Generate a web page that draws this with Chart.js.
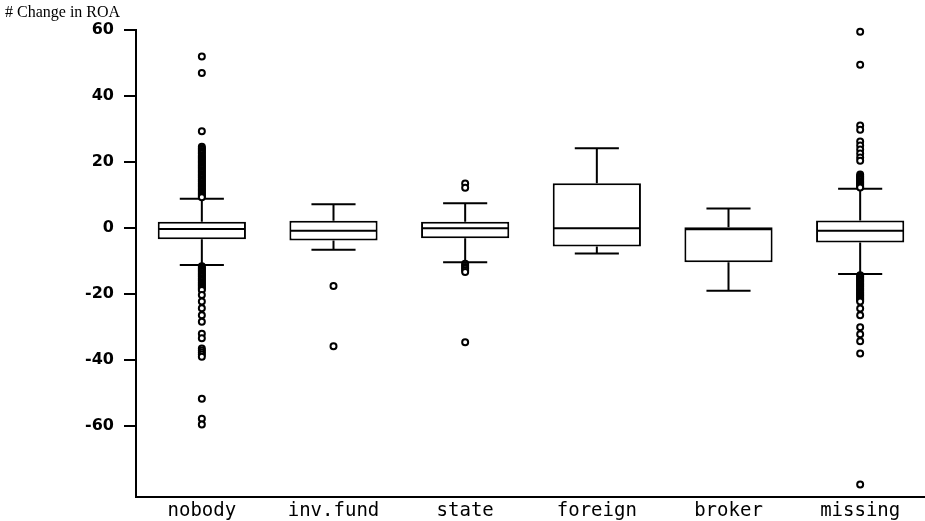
<!DOCTYPE html>
<html>
<head>
<meta charset="utf-8">
<script src="https://cdn.jsdelivr.net/npm/chart.js@4.4.1/dist/chart.umd.min.js"></script>
<style>
  html, body { margin: 0; padding: 0; background: #fff; overflow: hidden; }
  #wrap { position: relative; width: 925px; height: 521px; overflow: hidden; }
  #roa-box { position: absolute; left: 0; top: 0; }
  #roa-title {
    position: absolute; left: 5px; top: 3px;
    font-family: "Liberation Serif", serif; font-size: 16px; color: #000;
  }
</style>
</head>
<body>
<div id="wrap">
  <canvas id="roa-box" width="932" height="521"></canvas>
  <div id="roa-title"># Change in ROA</div>
</div>
<script>
const categories = ['nobody', 'inv.fund', 'state', 'foreign', 'broker', 'missing'];
const q1 = [-3.4, -3.8, -3.1, -5.6, -10.4, -4.4];
const q3 = [1.9, 2.2, 1.9, 13.6, 0.2, 2.3];
const medians = [-0.3, -0.8, -0.1, -0.1, -0.4, -0.8];
const whiskerLow = [-11.2, -6.6, -10.4, -7.7, -19.0, -13.9];
const whiskerHigh = [8.9, 7.2, 7.5, 24.2, 5.9, 11.9];
const yTicks = [-60, -40, -20, 0, 20, 40, 60];

// outliers per group (dense runs listed point by point)
const outNobody = [52, 47, 29.3, 24.6, 24.2, 23.8, 23.3, 22.9, 22.5, 22, 21.6, 21.2, 20.8, 20.4, 20, 19.6,
  19.2, 18.8, 18.4, 18, 17.6, 17.2, 16.8, 16.4, 16, 15.6, 15.2, 14.8, 14.4, 14, 13.6, 13.2,
  12.8, 12.4, 12, 11.6, 11.2, 10.8, 10.4, 10, 9.6, 9.3,
  -11.6, -12, -12.4, -12.8, -13.2, -13.6, -14, -14.4, -14.8, -15.2, -15.6, -16, -16.4, -16.8,
  -17.2, -17.6, -18, -18.4, -18.8,
  -20.3, -22.3, -24.3, -26.4, -28.4, -32, -33.4, -36.5, -37.1, -37.7, -38.3, -39, -51.7, -57.8, -59.5];
const outInvFund = [-17.6, -35.8];
const outState = [13.5, 12.2, -10.8, -11.3, -11.8, -12.3, -12.8, -13.3, -34.6];
const outForeign = [];
const outBroker = [];
const outMissing = [59.5, 49.5, 31.1, 29.8, 26.2, 25, 23.8, 22.6, 21.4, 20.4,
  16.2, 15.8, 15.4, 15, 14.6, 14.2, 13.8, 13.4, 13, 12.6, 12.3,
  -14.3, -14.7, -15.1, -15.5, -15.9, -16.3, -16.7, -17.1, -17.5, -17.9, -18.3, -18.7, -19.1,
  -19.5, -19.9, -20.3, -20.7, -21.1, -21.5, -21.9, -22.3,
  -24.4, -26.4, -30.1, -32.2, -34.3, -38, -77.7];
const outliers = [outNobody, outInvFund, outState, outForeign, outBroker, outMissing];

const outlierPoints = [];
outliers.forEach((list, i) => {
    for(const v of list) {
        outlierPoints.push({x: categories[i], y: v});
    }
});

// whiskers + median, drawn right after the boxes
const whiskerPlugin = {
    id: 'whiskers',
    afterDatasetDraw(chart, args) {
        if(args.index !== 0) return;
        const ctx = chart.ctx;
        const y = chart.scales.y;
        const bars = chart.getDatasetMeta(0).data;
        ctx.save();
        ctx.strokeStyle = '#000';
        ctx.lineWidth = 2;
        bars.forEach((bar, i) => {
            const x = bar.x;
            const w = bar.width;
            const yHi = y.getPixelForValue(whiskerHigh[i]);
            const yLo = y.getPixelForValue(whiskerLow[i]);
            ctx.beginPath();
            ctx.moveTo(x, y.getPixelForValue(q3[i]));
            ctx.lineTo(x, yHi);
            ctx.moveTo(x - w / 4, yHi);
            ctx.lineTo(x + w / 4, yHi);
            ctx.moveTo(x, y.getPixelForValue(q1[i]));
            ctx.lineTo(x, yLo);
            ctx.moveTo(x - w / 4, yLo);
            ctx.lineTo(x + w / 4, yLo);
            const yMed = y.getPixelForValue(medians[i]);
            ctx.moveTo(x - w / 2 + 1, yMed);
            ctx.lineTo(x + w / 2 - 1, yMed);
            ctx.stroke();
        });
        ctx.restore();
    }
};

new Chart(document.querySelector('#roa-box'), {
    type: 'bar',
    data: {
        labels: categories,
        datasets: [
            {
                data: q1.map((v, i) => [v, q3[i]]),
                backgroundColor: '#fff',
                borderColor: '#000',
                borderWidth: 2,
                borderSkipped: false,
                barPercentage: 0.67,
                categoryPercentage: 1,
                order: 2
            },
            {
                type: 'line',
                data: outlierPoints,
                showLine: false,
                clip: false,
                pointRadius: 3,
                pointBorderWidth: 2,
                pointBackgroundColor: '#fff',
                pointBorderColor: '#000',
                order: 1
            }
        ]
    },
    options: {
        responsive: false,
        animation: false,
        devicePixelRatio: 1,
        layout: { padding: { top: 30, right: 0, left: 0, bottom: 0 } },
        plugins: {
            legend: { display: false },
            tooltip: { enabled: false }
        },
        scales: {
            x: {
                grid: { display: false },
                border: { display: true, color: '#000', width: 2 },
                ticks: {
                    color: '#000',
                    padding: -5,
                    maxRotation: 0,
                    font: { family: 'DejaVu Sans Mono', size: 19 }
                },
                afterFit: (s) => {
                    s.height = 24;
                    s.paddingLeft = 0;
                    s.paddingRight = 0;
                }
            },
            y: {
                min: -81.5,
                max: 60,
                afterBuildTicks: (s) => { s.ticks = yTicks.map(v => ({value: v})); },
                grid: { drawOnChartArea: false, drawTicks: true, tickLength: 12, color: '#000', lineWidth: 2 },
                border: { display: true, color: '#000', width: 2 },
                ticks: {
                    color: '#000',
                    padding: 10,
                    font: { family: 'DejaVu Sans', size: 16, weight: 'bold' }
                },
                afterFit: (s) => { s.width = 136; }
            }
        }
    },
    plugins: [whiskerPlugin]
});
</script>
</body>
</html>
